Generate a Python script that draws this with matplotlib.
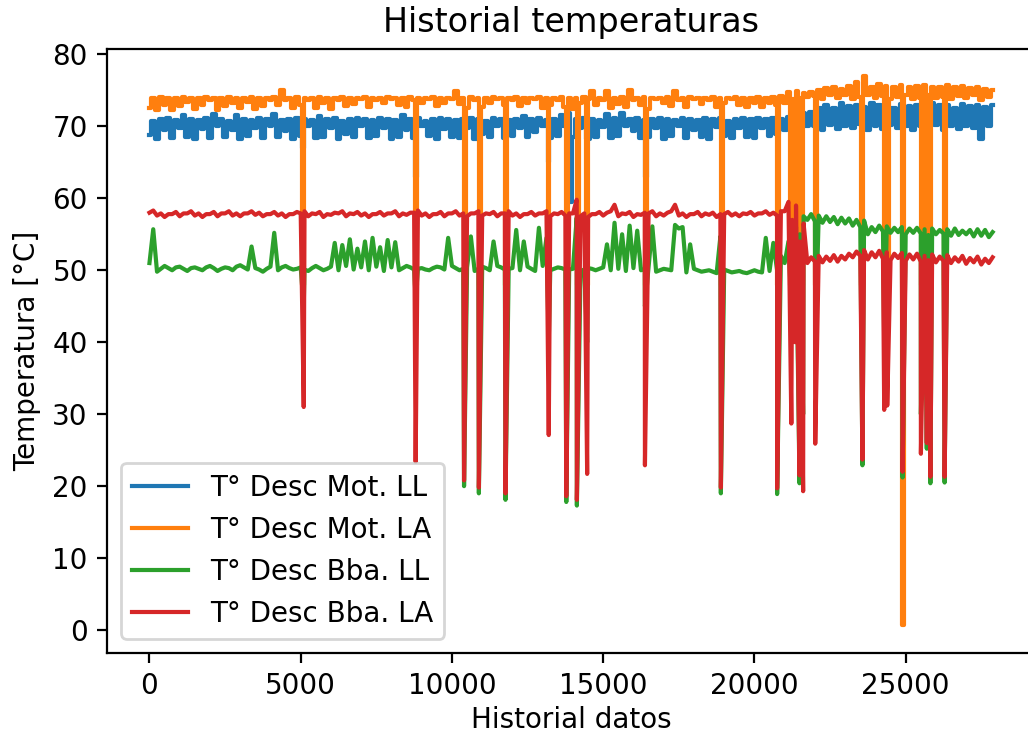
import numpy as np
import matplotlib
matplotlib.use("Agg")
import matplotlib.pyplot as plt

# ---------------- data ----------------
step = 250          # spacing of logged rows (lower / upper reading of each block)
half = 125

labels = ["T° Desc Mot. LL", "T° Desc Mot. LA", "T° Desc Bba. LL", "T° Desc Bba. LA"]

blue_lo = [68.8, 68.3, 69.5, 68.4, 69.8, 68.5, 68.3, 69.6, 68.4, 70.0,
           68.5, 69.5, 68.3, 68.6, 69.8, 68.4, 70.0, 68.5, 69.4, 68.3,
           68.6, 70.0, 68.4, 68.5, 69.7, 68.3, 69.0, 68.5, 70.0, 68.4,
           68.6, 69.8, 68.3, 68.5, 69.5, 68.4, 70.0, 68.6, 68.3, 69.6,
           68.5, 68.4, 69.8, 68.3, 69.0, 68.5, 70.0, 68.4, 68.6, 69.7,
           68.5, 69.2, 70.0, 68.4, 68.6, 70.1, 68.5, 69.8, 68.3, 68.5,
           69.9, 68.4, 68.6, 70.0, 69.3, 68.4, 68.5, 69.8, 68.3, 68.6,
           70.0, 68.4, 69.5, 68.5, 68.3, 69.9, 68.6, 68.4, 69.7, 68.5,
           68.4, 69.8, 68.6,
           69.0, 69.5, 70.0, 69.8, 70.0,
           70.0, 69.5, 70.2, 69.6, 70.0, 69.8, 70.3, 69.5, 70.0, 69.6,
           70.2, 69.7, 70.0, 69.5, 70.1, 69.8, 70.2, 69.5, 70.0, 69.6,
           70.1, 69.8, 68.2, 70.0]
blue_hi = [70.8, 71.0, 71.2, 70.9, 71.6, 71.0, 70.9, 71.1, 71.7, 71.0,
           70.8, 71.6, 71.0, 70.9, 71.2, 71.0, 71.7, 70.9, 71.0, 71.1,
           71.0, 70.9, 71.5, 71.0, 71.1, 70.8, 71.0, 71.2, 71.0, 70.9,
           71.1, 71.0, 70.9, 71.6, 71.0, 71.1, 70.8, 71.0, 71.2, 71.0,
           70.9, 71.0, 71.1, 71.0, 70.8, 71.2, 71.0, 70.9, 71.0, 71.5,
           71.0, 71.1, 70.9, 71.0, 71.6, 71.8, 71.0, 71.1, 71.0, 70.9,
           71.7, 71.2, 71.8, 71.0, 71.1, 70.9, 71.0, 71.2, 71.0, 70.9,
           71.1, 71.0, 70.9, 71.2, 71.0, 71.1, 70.8, 71.0, 71.2, 71.0,
           71.1, 71.0, 71.2,
           71.0, 71.3, 71.6, 71.8, 72.0,
           72.5, 73.0, 72.6, 73.2, 72.8, 73.0, 72.7, 73.3, 72.9, 73.0,
           72.6, 73.1, 72.8, 73.0, 72.7, 73.2, 72.9, 73.0, 72.6, 73.1,
           72.8, 73.0, 72.7, 73.0]

orange_lo = [72.6, 72.3, 73.0, 72.3, 72.8, 73.4, 72.4, 72.9, 73.6, 72.3,
             72.8, 73.2, 72.5, 73.4, 72.4, 72.8, 73.6, 72.9, 73.7, 72.6,
             72.9, 73.6, 72.6, 73.3, 72.4, 73.7, 72.8, 73.1, 73.8, 72.7,
             73.6, 73.2, 73.8, 72.9, 72.7, 73.6, 73.2, 73.8, 72.8, 73.3,
             73.8, 73.1, 72.5, 73.6, 72.7, 73.2, 73.8, 72.9, 73.6, 72.8,
             73.3, 73.8, 72.5, 72.9, 73.6, 72.7, 72.4, 73.2, 73.8, 72.9,
             73.6, 72.5, 73.1, 72.7, 73.6, 72.9, 72.4, 73.8, 73.2, 72.8,
             73.6, 72.7, 73.8, 73.1, 73.6, 72.7, 73.3, 73.8, 72.9, 72.7,
             73.2, 72.7, 73.3, 72.9, 73.3, 73.8, 74.0, 74.1,
             74.2, 73.8, 74.3, 74.0, 74.4, 73.8, 74.1, 74.3, 73.9, 74.2,
             73.8, 74.1, 74.4, 73.8, 74.0, 74.3, 73.9, 74.1, 73.8, 74.2,
             74.0, 74.3, 73.6, 74.1]
orange_hi = [74.0, 74.1, 74.0, 74.0, 74.1, 74.0, 74.0, 74.1, 74.0, 74.0,
             74.1, 74.0, 74.0, 74.1, 74.0, 74.0, 74.1, 75.0, 74.0, 74.1,
             74.0, 74.0, 74.1, 74.0, 74.0, 74.1, 74.0, 74.0, 74.1, 74.0,
             74.0, 74.1, 74.0, 74.0, 74.1, 74.0, 74.0, 74.1, 74.0, 74.0,
             74.9, 74.0, 74.1, 74.0, 74.0, 74.1, 74.0, 74.0, 74.1, 74.0,
             74.0, 74.1, 74.0, 74.0, 74.1, 74.0, 74.0, 74.1, 74.9, 74.0,
             74.9, 74.0, 74.1, 75.0, 74.0, 74.1, 74.0, 74.0, 74.1, 74.9,
             74.0, 74.1, 74.0, 74.0, 74.1, 74.0, 74.0, 74.1, 74.0, 74.0,
             74.1, 74.0, 74.1,
             74.2, 74.8, 74.9, 74.6, 74.8,
             75.0, 75.3, 75.5, 75.2, 75.6, 76.2, 77.0, 75.4, 75.9, 75.6,
             75.5, 75.7, 75.4, 75.6, 75.8, 75.5, 75.4, 75.7, 75.5, 75.6,
             75.3, 75.5, 75.2, 75.0]

green_lo = [51.0, 49.8, 50.6, 50.0, 50.5, 49.9, 50.4, 50.0, 50.6, 49.9,
            50.4, 50.0, 50.7, 50.1, 50.3, 49.8, 50.5, 50.0, 50.6, 50.1,
            50.4, 49.9, 50.6, 50.0, 50.5, 50.0, 50.6, 50.1, 50.4, 50.0,
            50.5, 49.9, 50.4, 50.0, 50.6, 50.1, 50.3, 50.0, 50.5, 50.1,
            50.6, 50.0, 50.4, 49.9, 50.5, 50.0, 50.6, 50.1, 50.3, 50.0,
            50.5, 49.9, 50.6, 50.0, 50.4, 50.1, 50.2, 49.9, 50.3, 50.0,
            50.4, 50.0, 50.2, 49.9, 50.3, 50.0, 50.4, 49.8, 50.2, 50.0,
            55.8, 49.7, 50.2, 49.8, 50.0, 49.6, 50.1, 49.7, 49.9, 49.6,
            50.0, 49.7, 49.9,
            50.0, 51.0, 52.5, 55.0,
            57.0, 56.8, 56.6, 56.7, 56.4, 56.5, 56.2, 56.0, 55.0, 55.3,
            55.4, 55.2, 55.3, 55.0, 55.2, 55.1, 54.9, 55.0, 55.1, 54.8,
            54.9, 55.0, 54.7, 54.8, 54.6]
green_hi = [55.7, 50.2, 50.3, 50.4, 50.2, 50.3, 50.2, 50.4, 50.3, 50.2,
            50.3, 50.5, 50.4, 53.3, 50.1, 50.2, 55.2, 50.4, 50.3, 50.2,
            50.1, 50.3, 50.3, 50.2, 53.8, 53.5, 54.3, 53.0, 54.0, 54.5,
            53.2, 54.2, 53.9, 50.3, 50.4, 50.2, 50.1, 50.3, 50.4, 54.5,
            50.3, 50.2, 54.7, 50.2, 50.3, 54.0, 50.4, 50.2, 55.6, 54.0,
            50.2, 55.9, 54.5, 50.2, 50.3, 50.1, 57.3, 50.1, 50.2, 50.2,
            53.6, 56.6, 55.0, 56.2, 55.5, 50.2, 56.1, 50.0, 50.1, 56.3,
            56.0, 53.6, 50.0, 49.9, 49.8, 54.7, 49.9, 49.8, 49.7, 49.8,
            49.8, 54.5, 53.8,
            52.0, 54.0, 56.0, 57.5,
            57.8, 57.6, 57.5, 57.4, 57.3, 57.2, 57.0, 56.9, 56.0, 56.2,
            56.1, 55.9, 56.0, 55.8, 55.9, 55.7, 55.8, 55.6, 55.7, 55.8,
            55.5, 55.6, 55.7, 55.6, 55.3]

red_lo = [58.0, 57.6, 57.4, 57.8, 57.5, 57.9, 57.6, 57.4, 57.8, 57.5,
          57.9, 57.6, 57.5, 57.9, 57.7, 57.5, 57.8, 57.6, 57.4, 57.8,
          57.9, 57.5, 57.8, 57.4, 57.7, 57.9, 57.5, 57.8, 57.6, 57.4,
          57.8, 57.6, 57.9, 57.5, 57.7, 58.0, 57.6, 57.4, 57.8, 57.5,
          57.9, 57.6, 57.5, 57.9, 57.6, 57.8, 57.5, 57.9, 57.6, 57.4,
          57.8, 57.6, 57.9, 57.5, 57.8, 57.6, 57.9, 57.5, 57.4, 57.8,
          57.6, 58.2, 57.5, 57.8, 57.4, 57.7, 57.9, 57.5, 57.6, 58.2,
          57.6, 57.4, 57.8, 57.5, 57.7, 57.4, 57.8, 57.6, 57.5, 57.8,
          57.6, 57.9, 57.7,
          57.6, 58.2, 57.0, 54.0,
          51.0, 51.2, 51.1, 51.3, 51.2, 51.5, 51.8, 52.0, 51.5, 51.8,
          51.6, 51.4, 51.7, 51.3, 51.5, 51.2, 51.4, 51.1, 51.3, 51.0,
          51.2, 50.9, 51.1, 50.8, 51.0]
red_hi = [58.3, 57.9, 57.8, 58.1, 57.9, 58.2, 57.9, 57.8, 58.1, 57.9,
          58.2, 57.9, 57.9, 58.2, 58.0, 57.8, 58.1, 57.9, 57.8, 58.1,
          58.2, 57.9, 58.1, 57.8, 58.0, 58.2, 57.9, 58.1, 57.9, 57.8,
          58.1, 57.9, 58.2, 57.9, 58.0, 58.3, 57.9, 57.8, 58.1, 57.9,
          58.2, 57.9, 57.9, 58.2, 57.9, 58.1, 57.9, 58.2, 57.9, 57.8,
          58.1, 57.9, 58.2, 57.9, 58.1, 57.9, 59.8, 57.9, 57.8, 58.1,
          58.0, 59.1, 57.9, 58.1, 57.8, 58.0, 58.2, 57.9, 58.0, 59.1,
          57.9, 57.8, 58.1, 57.9, 58.0, 57.8, 58.1, 57.9, 57.9, 58.1,
          57.9, 58.2, 58.0,
          58.2, 59.5, 59.0, 56.5,
          51.8, 52.0, 51.9, 52.1, 52.0, 52.3, 52.6, 52.8, 52.5, 52.7,
          52.5, 52.3, 52.4, 52.2, 52.3, 52.0, 52.2, 51.9, 52.1, 51.8,
          52.0, 51.7, 51.9, 51.6, 51.8]

# short drops (row index, reading)
blue_dip_x = [5100, 8800, 13200, 13950, 16380, 21300]
blue_dip_y = [67.0, 63.0, 65.0, 59.5, 63.0, 62.0]

orange_dip_x = [5100, 8800, 10400, 10890, 11770, 13200, 13780, 14130, 14470, 16380,
                18890, 20750, 21220, 21350, 21490, 21610, 22010, 23570, 24290, 24390,
                24897, 25503, 25698, 25817, 26287]
orange_dip_y = [48, 48, 48, 48, 48, 48, 48, 48, 48, 48,
                48, 48, 48, 48, 48, 48, 48, 48, 48, 48,
                0.7, 48, 48, 48, 48]

green_dip_x = [5100, 8800, 10400, 10890, 11770, 13200, 13780, 14130, 14470, 16380,
               18890, 20750, 21220, 21490, 21610, 22010, 23570, 24290, 24897, 25503,
               25698, 25817, 26287]
green_dip_y = [45, 46, 20.0, 19.0, 18.1, 40, 17.8, 17.3, 40, 45,
               19.0, 18.9, 45, 20.4, 30, 40, 22.9, 40, 21.2, 30,
               25.2, 20.4, 20.5]

red_dip_x = [5100, 8800, 10400, 10890, 11770, 13200, 13780, 14130, 14470, 16380,
             18890, 20750, 21220, 21350, 21490, 21610, 22010, 23570, 24290, 24390,
             24897, 25503, 25698, 25817, 26287]
red_dip_y = [31.0, 23.4, 20.8, 19.8, 19.0, 27.1, 18.6, 18.1, 21.7, 22.9,
             19.8, 19.7, 28.7, 40.0, 21.5, 19.3, 25.9, 23.7, 30.6, 31.2,
             22.0, 24.5, 26.0, 21.3, 21.3]


def build(lo, hi, dx, dy):
    idx = np.arange(len(lo)) * step
    x = np.concatenate([idx, idx + half, np.asarray(dx, float)])
    y = np.concatenate([np.asarray(lo, float), np.asarray(hi, float), np.asarray(dy, float)])
    order = np.argsort(x, kind="stable")
    return x[order], y[order]


series = [
    build(blue_lo, blue_hi, blue_dip_x, blue_dip_y),
    build(orange_lo, orange_hi, orange_dip_x, orange_dip_y),
    build(green_lo, green_hi, green_dip_x, green_dip_y),
    build(red_lo, red_hi, red_dip_x, red_dip_y),
]
drawstyles = ["steps-mid", "steps-mid", "default", "default"]

# ---------------- figure ----------------
W, H, DPI = 1028, 734, 200
fig = plt.figure(figsize=(W / DPI, H / DPI), dpi=DPI)
ax = fig.add_axes([107.3 / W, (H - 652.5) / H, 927.5 / W, (652.5 - 48.5) / H])

for (x, y), lab, ds in zip(series, labels, drawstyles):
    ax.plot(x, y, label=lab, drawstyle=ds)

ax.set_title("Historial temperaturas")
ax.set_xlabel("Historial datos", labelpad=2)
ax.set_ylabel("Temperatura [°C]")
ax.legend(loc="lower left")

fig.savefig("out.png", dpi=DPI)
